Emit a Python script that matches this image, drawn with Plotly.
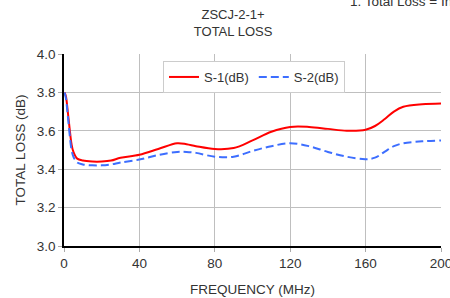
import plotly.graph_objects as go

freq = [0.3, 1, 2, 3, 4, 5, 7, 10, 15, 20, 25, 30, 40, 50, 60, 65, 70, 80, 90, 100,
        110, 120, 130, 140, 150, 160, 165, 170, 175, 180, 190, 200]
s1 = [3.80, 3.78, 3.70, 3.61, 3.53, 3.49, 3.455, 3.445, 3.44, 3.44, 3.445, 3.46, 3.475,
      3.505, 3.535, 3.53, 3.52, 3.505, 3.51, 3.55, 3.595, 3.62, 3.62, 3.61, 3.60, 3.605,
      3.625, 3.66, 3.70, 3.725, 3.738, 3.742]
s2 = [3.80, 3.77, 3.68, 3.58, 3.50, 3.465, 3.435, 3.425, 3.42, 3.42, 3.425, 3.435, 3.45,
      3.474, 3.49, 3.49, 3.485, 3.465, 3.465, 3.495, 3.52, 3.535, 3.52, 3.49, 3.465, 3.452,
      3.46, 3.49, 3.52, 3.535, 3.545, 3.55]

x_ticks = [0, 40, 80, 120, 160, 200]
y_ticks = [3.0, 3.2, 3.4, 3.6, 3.8, 4.0]

fig = go.Figure()
fig.add_trace(go.Scatter(x=freq, y=s1, mode="lines", name="S-1(dB)",
                         line=dict(color="#ff0000", width=2, shape="spline")))
fig.add_trace(go.Scatter(x=freq, y=s2, mode="lines", name="S-2(dB)",
                         line=dict(color="#3d6eff", width=2, shape="spline", dash="8px,4px")))

font = dict(family="Liberation Sans, Arial, sans-serif", color="#333333")

fig.update_layout(
    width=450, height=298,
    margin=dict(l=64, r=9, t=54, b=52, autoexpand=False),
    paper_bgcolor="white", plot_bgcolor="white",
    font=dict(size=13.5, **font),
    title=dict(text="ZSCJ-2-1+<br>TOTAL LOSS", x=0.518, xanchor="center",
               y=0.935, yanchor="top", font=dict(size=13, **font)),
    showlegend=True,
    legend=dict(orientation="h", x=(163 - 64) / 377, y=1 - (61 - 54) / 192,
                xanchor="left", yanchor="top",
                bgcolor="white", bordercolor="#cccccc", borderwidth=1,
                font=dict(size=13, **font), itemwidth=30, tracegroupgap=0),
    xaxis=dict(range=[0, 200], tickvals=x_ticks, ticktext=[str(v) for v in x_ticks],
               showgrid=True, gridcolor="#bfbfbf", gridwidth=1, automargin=False,
               showline=True, linecolor="black", linewidth=1.5,
               ticks="outside", ticklen=4, tickcolor="#aaaaaa",
               zeroline=False, ticklabeloverflow="allow",
               title=dict(text="FREQUENCY (MHz)", standoff=15, font=dict(size=13.5, **font))),
    yaxis=dict(range=[3.0, 4.0], tickvals=y_ticks, ticktext=[f"{v:.1f}" for v in y_ticks],
               showgrid=True, gridcolor="#bfbfbf", gridwidth=1, automargin=False,
               showline=True, linecolor="black", linewidth=1.5,
               ticks="outside", ticklen=4, tickcolor="#aaaaaa",
               zeroline=False,
               title=dict(text="TOTAL LOSS (dB)", standoff=8, font=dict(size=13.5, **font))),
)

fig.add_annotation(text="1. Total Loss = Insertion Loss + 3dB", xref="paper", yref="paper",
                   x=(348 - 64) / 377, y=1 + (54 - 1.5) / 192, xanchor="left", yanchor="middle",
                   showarrow=False, font=dict(size=13.5, **font))

fig.write_html("out.html", config={"displayModeBar": False},
               post_script="document.body.style.margin='0';")
